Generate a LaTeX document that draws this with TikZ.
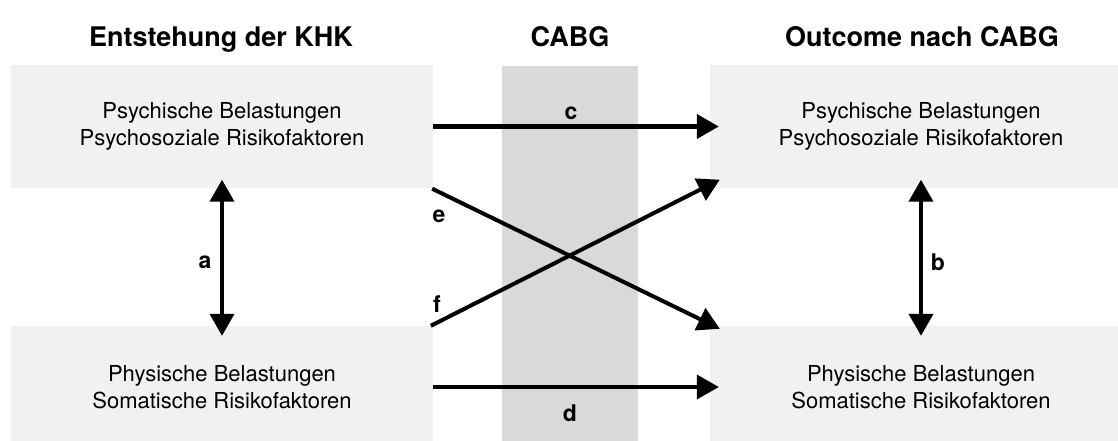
\documentclass[tikz,border=0pt]{standalone}
\usepackage{fontspec}
\setmainfont{TeX Gyre Heros}
\usetikzlibrary{arrows.meta,calc}
\definecolor{boxgray}{HTML}{F1F1F1}
\definecolor{colgray}{HTML}{D9D9D9}
\begin{document}
\begin{tikzpicture}[x=1pt,y=-1pt,
  panel/.style={fill=boxgray,draw=none,minimum width=422pt,minimum height=122pt,
    inner sep=0pt,align=center,font=\fontsize{22}{27}\selectfont},
  title/.style={anchor=base,font=\fontsize{27}{32}\selectfont\bfseries},
  lab/.style={font=\fontsize{23}{27}\selectfont\bfseries,inner sep=0pt},
  arr/.style={line width=4pt,-{Triangle[width=24pt,length=22pt]}},
  darr/.style={line width=4pt,{Triangle[width=24pt,length=22pt]}-{Triangle[width=24pt,length=22pt]}}]
\clip (0,0) rectangle (1118,441);
\fill[white] (0,0) rectangle (1118,441);
% column
\fill[colgray] (502,66) rectangle (638,441);
% titles
\node[title] (t1) at (221,47) {Entstehung der KHK};
\node[title] (t2) at (570,47) {CABG};
\node[title] (t3) at (922,47) {Outcome nach CABG};
% panels
\node[panel] (ltop) at (222,126.5) {Psychische Belastungen\\Psychosoziale Risikofaktoren};
\node[panel] (lbot) at (222,387) {Physische Belastungen\\Somatische Risikofaktoren};
\node[panel] (rtop) at (921,126.5) {Psychische Belastungen\\Psychosoziale Risikofaktoren};
\node[panel] (rbot) at (921,387) {Physische Belastungen\\Somatische Risikofaktoren};
% connectors
\draw[arr] (ltop.east) -- ($(rtop.west)+(9,0)$);
\draw[arr] (lbot.east) -- ($(rbot.west)+(9,0)$);
\draw[arr] ($(ltop.south east)+(-1,1)$) -- ($(rbot.north west)+(10,3)$);
\draw[arr] ($(lbot.north west)+(420,0)$) -- ($(rtop.south west)+(10,-8)$);
\draw[darr] ($(ltop.south)+(0,-8)$) -- ($(lbot.north)+(0,10)$);
\draw[darr] ($(rtop.south)+(0,-8)$) -- ($(rbot.north)+(0,10)$);
% labels
\node[lab] (la) at (205,262) {a};
\node[lab] (lb) at (938,262) {b};
\node[lab] (lc) at (571,113) {c};
\node[lab] (ld) at (570,413) {d};
\node[lab] (le) at (439,216) {e};
\node[lab] (lf) at (437,304) {f};
\end{tikzpicture}
\end{document}
